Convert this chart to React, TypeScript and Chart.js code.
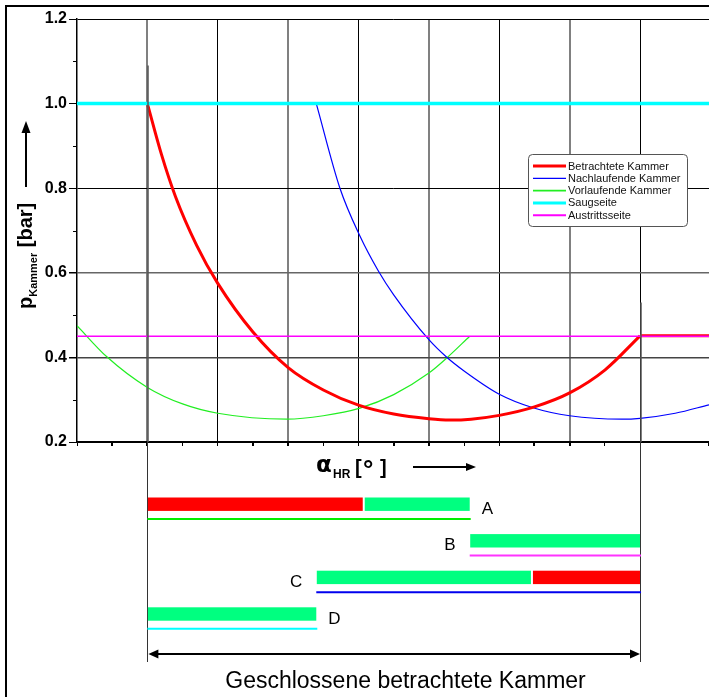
import React, { useEffect, useRef } from 'react';
import { Chart, registerables } from 'chart.js';

Chart.register(...registerables);

const FONT = '"Liberation Sans", Arial, sans-serif';

// ---------- series (x in grid units of alpha_HR, y in bar) ----------
const seriesNames = ['Betrachtete Kammer', 'Nachlaufende Kammer', 'Vorlaufende Kammer', 'Saugseite', 'Austrittsseite'];

const betrachteteX = [1.0, 1.2, 1.4, 1.7, 2.0, 2.5, 3.0, 3.5, 4.0, 4.5, 5.0, 5.3, 5.6, 6.0, 6.5, 7.0, 7.5, 8.0];
const betrachteteY = [1.0, 0.88, 0.78, 0.665, 0.575, 0.46, 0.376, 0.323, 0.287, 0.266, 0.255, 0.252, 0.254, 0.263, 0.283, 0.316, 0.37, 0.451];
const betrachteteAuslassX = [8.0, 8.98];
const betrachteteAuslassY = [0.451, 0.451];

const nachlaufendeX = [3.4, 3.736, 4.02, 4.28, 4.5, 5.0, 5.25, 5.5, 6.0, 6.48, 7.0, 7.74, 8.0, 8.5, 8.98];
const nachlaufendeY = [1.0, 0.80, 0.687, 0.605, 0.548, 0.442, 0.401, 0.368, 0.313, 0.281, 0.262, 0.254, 0.256, 0.268, 0.288];

const vorlaufendeX = [0, 0.42, 1.0, 1.5, 2.0, 2.98, 3.5, 4.02, 4.5, 5.0, 5.25, 5.58];
const vorlaufendeY = [0.475, 0.402, 0.329, 0.29, 0.268, 0.254, 0.262, 0.28, 0.312, 0.363, 0.398, 0.45];

const saugseiteX = [0, 8.98];
const saugseiteY = [1.0, 1.0];

const austrittsseiteX = [0, 8.98];
const austrittsseiteY = [0.45, 0.45];

// chamber closing / opening markers
const markerX = [1.0, 8.0];
const markerTopY = [1.09, 0.53];

// axis ticks
const yMajorTicks = [0.2, 0.4, 0.6, 0.8, 1.0, 1.2];
const yMinorTicks = [0.3, 0.5, 0.7, 0.9, 1.1];

// ---------- lower schedule ----------
const scheduleRows = ['A', 'B', 'C', 'D'];
const scheduleFrom = [[1.0, 4.06], [5.58], [3.4, 6.45], [1.0]];
const scheduleTo = [[4.06, 5.58], [8.0], [6.45, 8.0], [3.4]];
const scheduleKind = [['closed', 'open'], ['open'], ['open', 'closed'], ['open']];
const scheduleLineSeries = [2, 4, 1, 3];
const scheduleLineFrom = [1.0, 5.58, 3.4, 1.0];
const scheduleLineTo = [5.58, 8.0, 8.0, 3.4];
const closedSpan = [1.0, 8.0];
const closedLabel = 'Geschlossene betrachtete Kammer';

const seriesColors = ['#ff0000', '#0000ff', '#22ee22', '#00ffff', '#ff00ff'];
const seriesWidths = [3, 1.2, 1.2, 3.5, 1.6];
const legendWidths = [3, 1.2, 1.6, 3, 2];
const kindColors: Record<string, string> = { closed: '#ff0000', open: '#00ff80' };
const underlineColors = ['#00ee00', '#0000ee', '#00ee00', '#00ffff', '#ff33ff'];

const pts = (xs: number[], ys: number[]) => xs.map((x, i) => ({ x, y: ys[i] }));

const drawArrowHead = (ctx: CanvasRenderingContext2D, tx: number, ty: number, dx: number, dy: number, len: number, half: number) => {
  const bx = tx - dx * len;
  const by = ty - dy * len;
  ctx.beginPath();
  ctx.moveTo(tx, ty);
  ctx.lineTo(bx - dy * half, by + dx * half);
  ctx.lineTo(bx + dy * half, by - dx * half);
  ctx.closePath();
  ctx.fill();
};

const decorPlugin = {
  id: 'decor',
  beforeDraw(chart: any) {
    const ctx = chart.ctx as CanvasRenderingContext2D;
    ctx.save();
    ctx.fillStyle = '#ffffff';
    ctx.fillRect(0, 0, chart.width, chart.height);
    ctx.restore();
  },
  afterDatasetsDraw(chart: any) {
    const ctx = chart.ctx as CanvasRenderingContext2D;
    const xs = chart.scales.x;
    const ys = chart.scales.y;
    ctx.save();
    markerX.forEach((mx, i) => {
      const px = Math.round(xs.getPixelForValue(mx)) + 1;
      ctx.strokeStyle = '#555555';
      ctx.lineWidth = 1.5;
      ctx.beginPath();
      ctx.moveTo(px, ys.getPixelForValue(markerTopY[i]));
      ctx.lineTo(px, chart.chartArea.bottom);
      ctx.stroke();
    });
    ctx.restore();
  },
  afterDraw(chart: any) {
    const ctx = chart.ctx as CanvasRenderingContext2D;
    const xs = chart.scales.x;
    const ys = chart.scales.y;
    const area = chart.chartArea;
    ctx.save();

    // outer frame (top and left)
    ctx.fillStyle = '#000';
    ctx.fillRect(5, 5, chart.width - 5, 2);
    ctx.fillRect(5, 5, 2, chart.height - 5);

    // minor y ticks
    ctx.strokeStyle = '#000';
    ctx.lineWidth = 1;
    yMinorTicks.forEach((v) => {
      const py = Math.round(ys.getPixelForValue(v)) + 0.5;
      ctx.beginPath();
      ctx.moveTo(area.left - 4, py);
      ctx.lineTo(area.left, py);
      ctx.stroke();
    });

    // legend
    const lx = 528.5, ly = 154.5, lw = 159, lh = 72;
    ctx.beginPath();
    (ctx as any).roundRect(lx, ly, lw, lh, 4);
    ctx.fillStyle = '#ffffff';
    ctx.fill();
    ctx.strokeStyle = '#555';
    ctx.lineWidth = 1;
    ctx.stroke();
    ctx.font = `11px ${FONT}`;
    ctx.textBaseline = 'middle';
    ctx.textAlign = 'left';
    seriesNames.forEach((name, i) => {
      const y = 166 + i * 12.3;
      ctx.strokeStyle = seriesColors[i];
      ctx.lineWidth = legendWidths[i];
      ctx.beginPath();
      ctx.moveTo(533, y);
      ctx.lineTo(566, y);
      ctx.stroke();
      ctx.fillStyle = '#111';
      ctx.fillText(name, 568, y + 0.5);
    });

    // y axis title
    ctx.save();
    ctx.translate(32, 309);
    ctx.rotate(-Math.PI / 2);
    ctx.fillStyle = '#000';
    ctx.textBaseline = 'alphabetic';
    ctx.font = `bold 20px ${FONT}`;
    ctx.fillText('p', 0, 0);
    let w = ctx.measureText('p').width;
    ctx.font = `bold 11px ${FONT}`;
    ctx.fillText('Kammer', w, 4.5);
    w += ctx.measureText('Kammer').width;
    ctx.font = `bold 20px ${FONT}`;
    ctx.fillText(' [bar]', w, 0);
    ctx.restore();
    // y arrow
    ctx.strokeStyle = '#000';
    ctx.fillStyle = '#000';
    ctx.lineWidth = 2;
    ctx.beginPath();
    ctx.moveTo(26, 187);
    ctx.lineTo(26, 130);
    ctx.stroke();
    drawArrowHead(ctx, 26, 121, 0, -1, 12, 4.5);

    // x axis title
    ctx.textBaseline = 'alphabetic';
    ctx.textAlign = 'left';
    ctx.font = `bold 23px "DejaVu Sans", ${FONT}`;
    ctx.fillText('\u03B1', 316, 472);
    ctx.font = `bold 12px ${FONT}`;
    ctx.fillText('HR', 333, 478);
    ctx.font = `bold 20px ${FONT}`;
    ctx.fillText('[', 355, 474);
    ctx.fillText(']', 380, 474);
    ctx.font = `bold 26px ${FONT}`;
    ctx.fillText('\u00B0', 363, 478);
    ctx.lineWidth = 2;
    ctx.beginPath();
    ctx.moveTo(413, 467);
    ctx.lineTo(467, 467);
    ctx.stroke();
    drawArrowHead(ctx, 476, 467, 1, 0, 10, 4);

    // lower vertical guide lines
    markerX.forEach((mx) => {
      const px = Math.round(xs.getPixelForValue(mx)) + 0.5;
      ctx.strokeStyle = '#333';
      ctx.lineWidth = 1;
      ctx.beginPath();
      ctx.moveTo(px, area.bottom);
      ctx.lineTo(px, 662);
      ctx.stroke();
    });

    // schedule bars
    const base = area.bottom + 55.5;
    scheduleRows.forEach((row, r) => {
      const top = base + r * 36.6;
      const h = 13.4;
      scheduleFrom[r].forEach((f, k) => {
        const x0 = xs.getPixelForValue(f) + 0.5;
        const x1 = xs.getPixelForValue(scheduleTo[r][k]);
        ctx.fillStyle = kindColors[scheduleKind[r][k]];
        ctx.fillRect(x0 + (k > 0 ? 1.5 : 0), top, x1 - x0 - (k > 0 ? 1.5 : 0), h);
      });
      const si = scheduleLineSeries[r];
      ctx.strokeStyle = underlineColors[si];
      ctx.lineWidth = 2;
      ctx.beginPath();
      const ly2 = top + 21.5;
      ctx.moveTo(xs.getPixelForValue(scheduleLineFrom[r]), ly2);
      ctx.lineTo(xs.getPixelForValue(scheduleLineTo[r]) + 1, ly2);
      ctx.stroke();
      ctx.fillStyle = '#000';
      ctx.font = `17px ${FONT}`;
      ctx.textBaseline = 'middle';
      const endPx = xs.getPixelForValue(scheduleTo[r][scheduleTo[r].length - 1]);
      const startPx = xs.getPixelForValue(scheduleFrom[r][0]);
      const cy = top + h / 2 + 5;
      if (r === 0 || r === 3) {
        ctx.textAlign = 'left';
        ctx.fillText(row, endPx + 12, cy);
      } else {
        ctx.textAlign = 'right';
        ctx.fillText(row, startPx - 14, cy);
      }
    });

    // double arrow
    const ax0 = xs.getPixelForValue(closedSpan[0]) + 1;
    const ax1 = xs.getPixelForValue(closedSpan[1]);
    const ay = 654;
    ctx.strokeStyle = '#000';
    ctx.fillStyle = '#000';
    ctx.lineWidth = 2;
    ctx.beginPath();
    ctx.moveTo(ax0 + 8, ay);
    ctx.lineTo(ax1 - 8, ay);
    ctx.stroke();
    drawArrowHead(ctx, ax0, ay, -1, 0, 10, 4.5);
    drawArrowHead(ctx, ax1, ay, 1, 0, 10, 4.5);

    ctx.font = `23px ${FONT}`;
    ctx.textAlign = 'center';
    ctx.textBaseline = 'alphabetic';
    ctx.fillStyle = '#000';
    ctx.fillText(closedLabel, 405.5, 688);

    ctx.restore();
  },
};

export default function App() {
  const ref = useRef<HTMLCanvasElement | null>(null);

  useEffect(() => {
    if (!ref.current) return;
    const mk = (data: any[], i: number, order: number, extra: any = {}) => ({
      label: seriesNames[i],
      data,
      borderColor: seriesColors[i],
      backgroundColor: seriesColors[i],
      borderWidth: seriesWidths[i],
      pointRadius: 0,
      fill: false,
      order,
      cubicInterpolationMode: 'monotone',
      ...extra,
    });
    const chart = new Chart(ref.current, {
      type: 'line',
      data: {
        datasets: [
          mk(pts(betrachteteX, betrachteteY), 0, 2),
          mk(pts(betrachteteAuslassX, betrachteteAuslassY), 0, 2, { label: '' }),
          mk(pts(nachlaufendeX, nachlaufendeY), 1, 3),
          mk(pts(vorlaufendeX, vorlaufendeY), 2, 4),
          mk(pts(saugseiteX, saugseiteY), 3, 1),
          mk(pts(austrittsseiteX, austrittsseiteY), 4, 0),
        ] as any,
      },
      options: {
        animation: false,
        responsive: false,
        devicePixelRatio: 1,
        layout: { padding: { top: 19, left: 0, right: 0, bottom: 250 } },
        plugins: { legend: { display: false }, tooltip: { enabled: false } },
        scales: {
          x: {
            type: 'linear',
            min: 0,
            max: 8.98,
            ticks: { display: false, stepSize: 0.5 },
            grid: {
              color: (c: any) => {
                const v = c.tick ? c.tick.value : 0;
                if (Math.abs(v - Math.round(v)) > 1e-6 || Math.round(v) === 0) return 'rgba(0,0,0,0)';
                return Math.round(v) % 2 === 1 ? '#808080' : '#000000';
              },
              lineWidth: (c: any) => {
                const v = c.tick ? c.tick.value : 0;
                return Math.round(v) % 2 === 1 ? 2 : 1;
              },
              tickColor: '#000',
              tickLength: 4,
            },
            border: { color: '#000', width: 1.5 },
            afterFit: (s: any) => { s.height = 5; },
          },
          y: {
            type: 'linear',
            min: 0.2,
            max: 1.2,
            afterBuildTicks: (s: any) => { s.ticks = yMajorTicks.map((v) => ({ value: v })); },
            ticks: {
              callback: (v: any) => Number(v).toFixed(1),
              font: { family: FONT, size: 16, weight: 'bold' },
              color: '#000',
              padding: 2,
            },
            grid: {
              color: (c: any) => {
                const v = c.tick ? Math.round(c.tick.value * 10) : 0;
                if (v === 6 || v === 10) return '#666666';
                if (v === 4) return '#444444';
                return '#000000';
              },
              lineWidth: (c: any) => {
                const v = c.tick ? Math.round(c.tick.value * 10) : 0;
                return v === 6 || v === 4 ? 1.5 : 1;
              },
              tickColor: '#000',
              tickLength: 8,
            },
            border: { color: '#000', width: 1.5 },
            afterFit: (s: any) => { s.width = 77; },
          },
        },
      } as any,
      plugins: [decorPlugin],
    });
    return () => chart.destroy();
  }, []);

  return (
    <div style={{ position: 'fixed', left: 0, top: 0, width: 709, height: 697, background: '#fff' }}>
      <canvas ref={ref} width={709} height={697} style={{ width: 709, height: 697, display: 'block' }} />
    </div>
  );
}
